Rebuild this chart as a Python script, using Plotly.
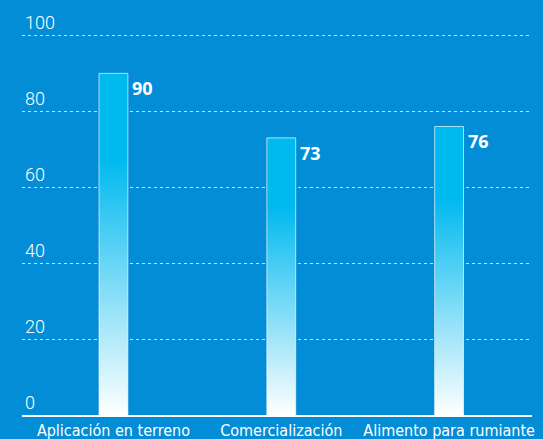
import plotly.graph_objects as go

categories = ["Aplicación en terreno", "Comercialización", "Alimento para rumiante"]
values = [90, 73, 76]
y_ticks = [0, 20, 40, 60, 80, 100]

BG = "#028dd6"
half = 0.086

fig = go.Figure()
for i, (c, v) in enumerate(zip(categories, values)):
    xs = [i - half, i + half, i + half, i - half, i - half]
    ys = [0, 0, v, v, 0]
    fig.add_trace(go.Scatter(
        x=xs, y=ys, mode="lines", fill="toself",
        line=dict(color="rgba(255,255,255,0.65)", width=1),
        fillgradient=dict(type="vertical",
                          colorscale=[[0, "#ffffff"], [0.75, "#00b9ef"], [1, "#00b9ef"]]),
        hoverinfo="skip", showlegend=False,
    ))
    fig.add_annotation(x=i + half, y=v, text=f"<b>{v}</b>", showarrow=False,
                       xanchor="left", yanchor="top", xshift=2, yshift=-1,
                       font=dict(family="Open Sans", size=18, color="white"))

fig.update_layout(
    width=543, height=439,
    paper_bgcolor=BG, plot_bgcolor=BG,
    margin=dict(l=22, r=11, t=5, b=24),
    xaxis=dict(range=[-0.545, 2.494], tickvals=list(range(len(categories))),
               ticktext=categories, showgrid=False, zeroline=False, automargin=False,
               showline=True, linecolor="white", linewidth=1.5, ticks="",
               tickfont=dict(family="DejaVu Sans Condensed", size=16, color="white")),
    yaxis=dict(range=[0, 108], tickvals=y_ticks, showgrid=True, automargin=False,
               gridcolor="rgba(255,255,255,0.75)", griddash="dot", gridwidth=1,
               zeroline=False, showline=False, ticks="",
               ticklabelposition="inside top",
               tickfont=dict(family="Roboto", size=18, color="white", weight=300)),
)
fig.write_html("out.html", config={"displayModeBar": False},
               post_script="document.body.style.margin='0';document.body.style.overflow='hidden';")
